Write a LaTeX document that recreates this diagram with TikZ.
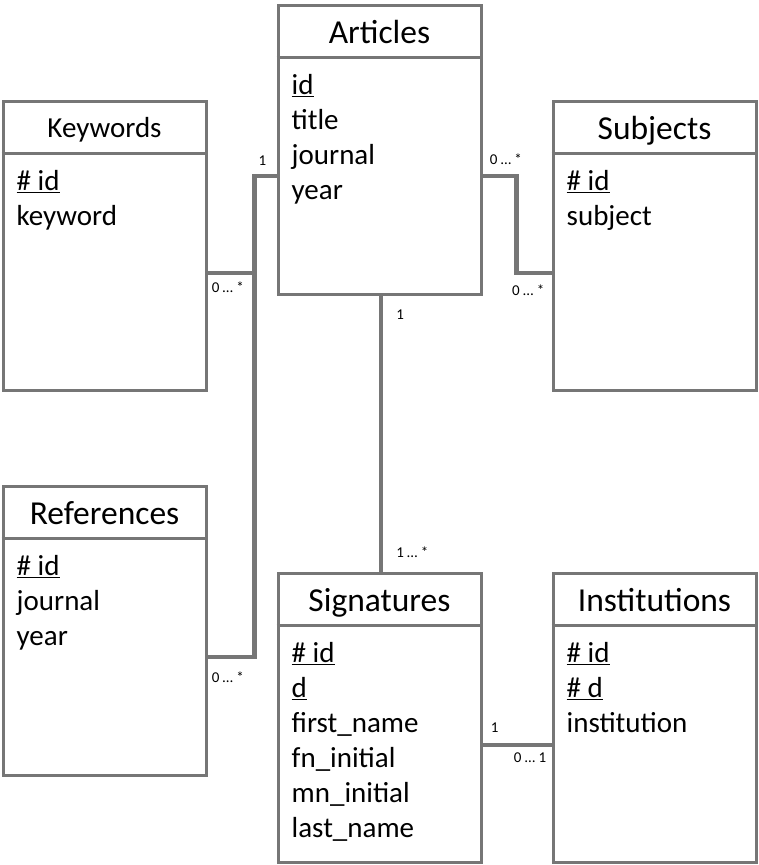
\documentclass[tikz,border=0pt]{standalone}
\usepackage{fontspec}
\setmainfont{Carlito}
\usetikzlibrary{positioning}
\definecolor{linegray}{RGB}{118,118,118}

\begin{document}
\begin{tikzpicture}[x=1pt, y=-1pt,
   entity/.style={draw=linegray, line width=3pt, minimum width=203pt, minimum height=289pt, inner sep=0pt},
   sep/.style={draw=linegray, line width=3pt},
   title/.style={font=\fontsize{33.5}{33.5}\selectfont, anchor=base, inner sep=0pt},
   attr/.style={font=\fontsize{29}{29}\selectfont, anchor=base west, inner sep=0pt},
   conn/.style={draw=linegray, line width=4.5pt},
   card/.style={font=\fontsize{15}{15}\selectfont, inner sep=0pt}]
   \useasboundingbox (0,0) rectangle (758,865);

   % boxes
   \node[entity] (articles) at (379.5,149.5) {};
   \node[entity] (keywords) at (104.5,245.5) {};
   \node[entity] (subjects) at (654.5,245.5) {};
   \node[entity] (references) at (104.5,630.5) {};
   \node[entity] (signatures) at (379.5,717.5) {};
   \node[entity] (institutions) at (654.5,717.5) {};

   % headers
   \foreach \e/\t in {articles/Articles, subjects/Subjects, references/References,
                      signatures/Signatures, institutions/Institutions} {
      \node[title] (\e-title) at ([yshift=-40pt]\e.north) {\t};
   }
   \node[title, font=\fontsize{29}{29}\selectfont] (keywords-title) at ([yshift=-38pt]keywords.north) {Keywords};
   \foreach \e in {articles, keywords, subjects, references, signatures, institutions}
      \draw[sep] ([yshift=-54pt]\e.north west) -- ([yshift=-54pt]\e.north east);

   % attributes
   \foreach \a [count=\i] in {\underline{id}, title, journal, year}
      \node[attr] (articles-\i) at ([xshift=15pt, yshift=-56pt-35pt*\i]articles.north west) {\a};
   \foreach \a [count=\i] in {\underline{\# id}, keyword}
      \node[attr] (keywords-\i) at ([xshift=15pt, yshift=-56pt-35pt*\i]keywords.north west) {\a};
   \foreach \a [count=\i] in {\underline{\# id}, subject}
      \node[attr] (subjects-\i) at ([xshift=15pt, yshift=-56pt-35pt*\i]subjects.north west) {\a};
   \foreach \a [count=\i] in {\underline{\# id}, journal, year}
      \node[attr] (references-\i) at ([xshift=15pt, yshift=-56pt-35pt*\i]references.north west) {\a};
   \foreach \a [count=\i] in {\underline{\# id}, \underline{d}, first\_name, fn\_initial, mn\_initial, last\_name}
      \node[attr] (signatures-\i) at ([xshift=15pt, yshift=-56pt-35pt*\i]signatures.north west) {\a};
   \foreach \a [count=\i] in {\underline{\# id}, \underline{\# d}, institution}
      \node[attr] (institutions-\i) at ([xshift=15pt, yshift=-56pt-35pt*\i]institutions.north west) {\a};

   % links
   \draw[conn] ([yshift=-27.5pt]keywords.east)
        node[card, anchor=north west, xshift=2pt, yshift=-7pt] (kw-card) {0 … *}
        -| ([xshift=-22pt, yshift=-26.5pt]articles.west) -- ([yshift=-26.5pt]articles.west)
        node[card, anchor=south east, xshift=-8pt, yshift=8pt] (ar-card-kw) {1};
   \draw[conn] ([yshift=-26.5pt]references.east)
        node[card, anchor=north west, xshift=2pt, yshift=-13pt] (rf-card) {0 … *}
        -| ([xshift=-22pt, yshift=-26.5pt]articles.west);
   \draw[conn] ([yshift=-26.5pt]articles.east)
        node[card, anchor=south west, xshift=5pt, yshift=9pt] (ar-card-sb) {0 … *}
        -| ([xshift=-35pt, yshift=-27.5pt]subjects.west) -- ([yshift=-27.5pt]subjects.west)
        node[card, anchor=north east, xshift=-5pt, yshift=-10pt] (sb-card) {0 … *};
   \draw[conn] ([xshift=1.5pt]articles.south)
        node[card, anchor=north west, xshift=13pt, yshift=-12pt] (ar-card-sg) {1}
        -- ([xshift=1.5pt]signatures.north)
        node[card, anchor=south west, xshift=13pt, yshift=12pt] (sg-card-ar) {1 … *};
   \draw[conn] ([yshift=-27.5pt]signatures.east)
        node[card, anchor=south west, xshift=6pt, yshift=10pt] (sg-card-in) {1}
        -- ([yshift=-27.5pt]institutions.west)
        node[card, anchor=north east, xshift=-3pt, yshift=-6pt] (in-card) {0 … 1};
\end{tikzpicture}
\end{document}
